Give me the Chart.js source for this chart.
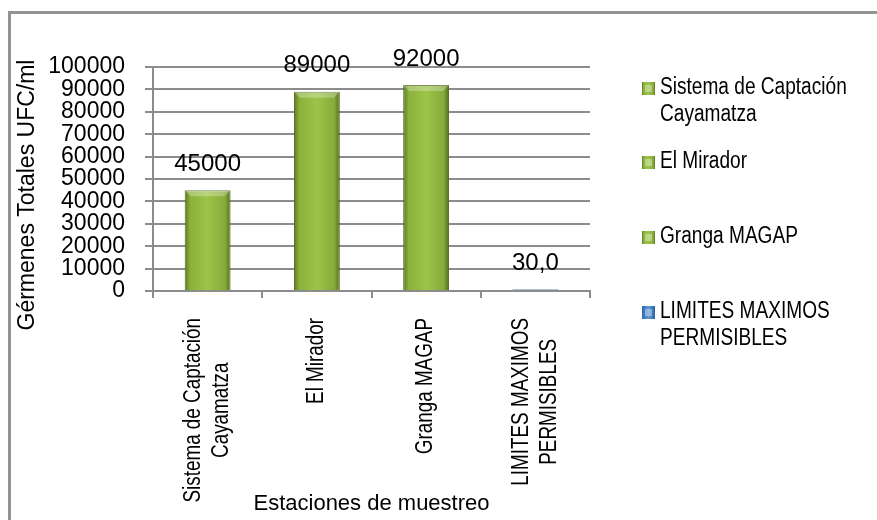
<!DOCTYPE html>
<html>
<head>
<meta charset="utf-8">
<script src="https://cdn.jsdelivr.net/npm/chart.js@4.4.1/dist/chart.umd.min.js"></script>
<style>
  body { margin: 0; overflow: hidden; background: #fff; }
  #wrap { position: relative; width: 877px; height: 520px; overflow: hidden; }
  #frame { position: absolute; left: 8px; top: 11px; width: 900px; height: 600px; border: 3px solid #939393; }
  canvas { position: absolute; left: 0; top: 0; }
</style>
</head>
<body>
<div id="wrap">
  <div id="frame"></div>
  <canvas id="myChart" width="877" height="520"></canvas>
</div>
<script>
// Estaciones de muestreo (una fila por linea de texto)
const categories = [
    ['Sistema de Captación', 'Cayamatza'],
    ['El Mirador'],
    ['Granga MAGAP'],
    ['LIMITES MAXIMOS', 'PERMISIBLES']
];
// Gérmenes totales UFC/ml
const values = [45000, 89000, 92000, 30];
const yMax = 100000;
const yStep = 10000;

const barKind = ['green', 'green', 'green', 'blue'];
const FONT = 'Liberation Sans, Arial, sans-serif';

const fmt = (v) => v >= 1000 ? String(v) : v.toFixed(1).replace('.', ',');

// Horizontal gradient that gives the bars their rounded / bevel look
const barFill = (ctx, x0, x1, kind) => {
    const g = ctx.createLinearGradient(x0, 0, x1, 0);
    if (kind === 'blue') {
        g.addColorStop(0, '#2f6aa8');
        g.addColorStop(0.5, '#5f9ad6');
        g.addColorStop(1, '#2c649f');
    } else {
        g.addColorStop(0, '#5a7820');
        g.addColorStop(0.12, '#8cb03c');
        g.addColorStop(0.5, '#9cc449');
        g.addColorStop(0.88, '#87aa3a');
        g.addColorStop(1, '#52701d');
    }
    return g;
};

const textPlugin = {
    id: 'texts',
    afterDatasetsDraw(chart) {
        const { ctx, chartArea, scales: { x } } = chart;
        const meta = chart.getDatasetMeta(0);

        // bevel highlight at the top of every bar
        meta.data.forEach((bar) => {
            const w = bar.width, left = bar.x - w / 2, top = bar.y;
            if (bar.base - top < 10) return;
            ctx.save();
            ctx.fillStyle = 'rgba(255,255,255,0.28)';
            ctx.beginPath();
            ctx.moveTo(left, top);
            ctx.lineTo(left + w, top);
            ctx.lineTo(left + w - 6, top + 6);
            ctx.lineTo(left + 6, top + 6);
            ctx.closePath();
            ctx.fill();
            ctx.restore();
        });

        ctx.save();
        ctx.fillStyle = '#000';

        // data labels
        ctx.font = '24px ' + FONT;
        ctx.textAlign = 'center';
        ctx.textBaseline = 'middle';
        meta.data.forEach((bar, i) => {
            ctx.fillText(fmt(values[i]), bar.x, bar.y - 26);
        });

        // category labels, rotated, narrow
        categories.forEach((lines, i) => {
            const cx = x.getPixelForValue(i);
            ctx.save();
            ctx.translate(cx, chartArea.bottom + 27);
            ctx.rotate(-Math.PI / 2);
            ctx.scale(0.82, 1);
            ctx.font = '23px ' + FONT;
            const W = Math.max(...lines.map(l => ctx.measureText(l).width));
            lines.forEach((l, j) => {
                ctx.fillText(l, -W / 2, (j - (lines.length - 1) / 2) * 28);
            });
            ctx.restore();
        });

        // axis titles
        ctx.font = '22px ' + FONT;
        ctx.fillText('Estaciones de muestreo', (chartArea.left + chartArea.right) / 2, 504);
        ctx.save();
        ctx.translate(28, 195);
        ctx.rotate(-Math.PI / 2);
        ctx.font = '23px ' + FONT;
        ctx.fillText('Gérmenes Totales UFC/ml', 0, 0);
        ctx.restore();

        // legend
        const legendY = [88, 162, 237, 312];
        categories.forEach((lines, i) => {
            const y0 = legendY[i];
            const bx = 642, by = y0 - 6;
            ctx.fillStyle = barFill(ctx, bx, bx + 13, barKind[i]);
            ctx.fillRect(bx, by, 13, 13);
            ctx.fillStyle = 'rgba(255,255,255,0.35)';
            ctx.fillRect(bx + 3, by + 3, 7, 7);
            ctx.fillStyle = '#000';
            ctx.save();
            ctx.translate(660, 0);
            ctx.scale(0.83, 1);
            ctx.font = '23px ' + FONT;
            ctx.textAlign = 'left';
            lines.forEach((l, j) => ctx.fillText(l, 0, y0 + j * 27));
            ctx.restore();
        });
        ctx.restore();
    }
};

Chart.defaults.font.family = FONT;

const chart = new Chart(document.getElementById('myChart'), {
    type: 'bar',
    data: {
        labels: categories.map(c => c.join(' ')),
        datasets: [{
            data: values,
            minBarLength: 2,
            categoryPercentage: 1,
            barPercentage: 0.42,
            borderWidth: 1,
            borderColor: (c) => barKind[c.dataIndex] === 'blue' ? '#8fb0c8' : '#506b1c',
            backgroundColor: (c) => {
                const ch = c.chart;
                if (barKind[c.dataIndex] === 'blue') return '#8fb0c8';
                if (!ch.chartArea || !ch.scales.x) return '#9bbb59';
                const cx = ch.scales.x.getPixelForValue(c.dataIndex);
                const half = ch.scales.x.width / categories.length * 0.42 / 2;
                return barFill(ch.ctx, cx - half, cx + half, barKind[c.dataIndex]);
            }
        }]
    },
    options: {
        responsive: false,
        animation: false,
        layout: { padding: { left: 0, top: 67, right: 287, bottom: 0 } },
        plugins: { legend: { display: false }, tooltip: { enabled: false } },
        scales: {
            x: {
                afterFit: (s) => { s.height = 229; },
                ticks: { display: false },
                border: { color: '#8c8c8c', width: 2 },
                grid: { offset: true, drawOnChartArea: false, drawTicks: true, tickLength: 7, color: '#8c8c8c', lineWidth: 2 }
            },
            y: {
                min: 0,
                max: yMax,
                afterFit: (s) => { s.width = 153; },
                ticks: {
                    stepSize: yStep,
                    autoSkip: false,
                    padding: 20,
                    color: '#000',
                    font: { size: 23, lineHeight: 1 },
                    callback: (v) => String(v)
                },
                border: { color: '#8c8c8c', width: 2 },
                grid: { color: '#8c8c8c', lineWidth: 2, tickLength: 8 }
            }
        }
    },
    plugins: [textPlugin]
});
</script>
</body>
</html>
